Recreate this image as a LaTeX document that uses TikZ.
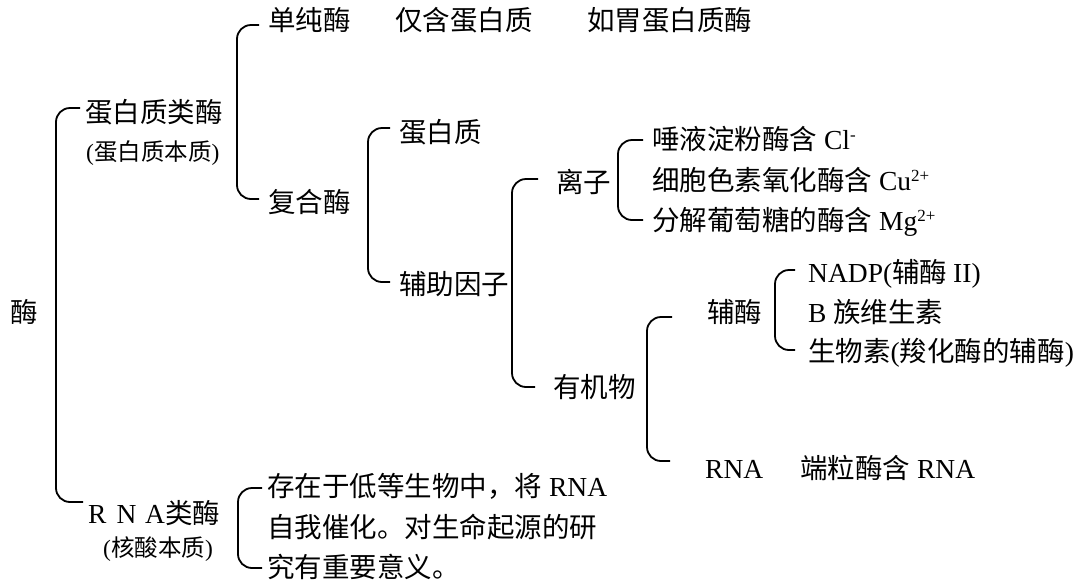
\documentclass[tikz,border=0pt]{standalone}
\usepackage{fontspec}
\setmainfont{Liberation Serif}
\newfontfamily\cjk{Noto Sans CJK SC}
\usetikzlibrary{calc}
\newcommand\sps[1]{\raisebox{9pt}{\fontsize{17}{17}\selectfont #1}}
\newcommand\brkt[6]{\draw[brk] ($(#1.west)+(-#3,#5)$) -| ($(#2.west)+({-#3-#4},#6)$) -- ($(#2.west)+(-#3,#6)$);}
\begin{document}
\begin{tikzpicture}[x=1pt,y=-1pt,
  t/.style={anchor=west,inner sep=0pt,text height=24pt,text depth=3pt,font=\fontsize{27.5}{28}\selectfont},
  ts/.style={anchor=west,inner sep=0pt,text height=21pt,text depth=3pt,font=\fontsize{23.5}{24}\selectfont},
  brk/.style={line width=1.8pt,rounded corners=14pt}]
\useasboundingbox (0,0) rectangle (1082,582);
% level 0
\node[t] (root) at (10,312) {\cjk 酶};
% level 1
\node[t] (p1) at (85,112) {\cjk 蛋白质类酶};
\node[ts] (p1s) at (86,151) {({\cjk 蛋白质本质})};
\node[t] (p2) at (88,513) {\makebox[28.5pt][l]{R}\makebox[28.5pt][l]{N}A{\cjk 类酶}};
\node[ts] (p2s) at (103,547) {({\cjk 核酸本质})};
% level 2
\node[t] (a1) at (268,20) {\cjk 单纯酶};
\node[t] (a1b) at (395,20) {\cjk 仅含蛋白质};
\node[t] (a1c) at (587,20) {\cjk 如胃蛋白质酶};
\node[t] (a2) at (268,202) {\cjk 复合酶};
% level 3
\node[t] (b1) at (399,132) {\cjk 蛋白质};
\node[t] (b2) at (399,284) {\cjk 辅助因子};
% level 4
\node[t] (c1) at (556,182) {\cjk 离子};
\node[t] (c2) at (553,387) {\cjk 有机物};
% ions
\node[t] (d1) at (652,139) {{\cjk 唾液淀粉酶含} Cl\sps{-}};
\node[t] (d2) at (652,180) {{\cjk 细胞色素氧化酶含} Cu\sps{2+}};
\node[t] (d3) at (652,220) {{\cjk 分解葡萄糖的酶含} Mg\sps{2+}};
% organics
\node[t] (e1) at (707,312) {\cjk 辅酶};
\node[t] (e2) at (705,468) {RNA};
\node[t] (e2b) at (800,468) {{\cjk 端粒酶含} RNA};
\node[t] (f1) at (808,272) {NADP({\cjk 辅酶}\hspace{6pt}II)};
\node[t] (f2) at (808,312) {B {\cjk 族维生素}};
\node[t] (f3) at (808,351) {{\cjk 生物素}({\cjk 羧化酶的辅酶})};
% RNA enzymes
\node[t] (g1) at (267,486) {{\cjk 存在于低等生物中，将} RNA};
\node[t] (g2) at (267,527) {\cjk 自我催化。对生命起源的研};
\node[t] (g3) at (267,567) {\cjk 究有重要意义。};
% brackets
\brkt{p1}{p2}{5}{27}{-4}{-11}
\brkt{a1}{a2}{9}{22}{5}{-3}
\brkt{b1}{b2}{9}{22}{-4}{-2}
\brkt{c1}{c2}{18}{23}{-3}{0}
\brkt{d1}{d3}{9}{25}{1}{0}
\brkt{e1}{e2}{35}{23}{5}{-7}
\brkt{f1}{f3}{13}{20}{-2}{-1}
\brkt{g1}{g3}{5}{24}{2}{1}
\end{tikzpicture}
\end{document}
